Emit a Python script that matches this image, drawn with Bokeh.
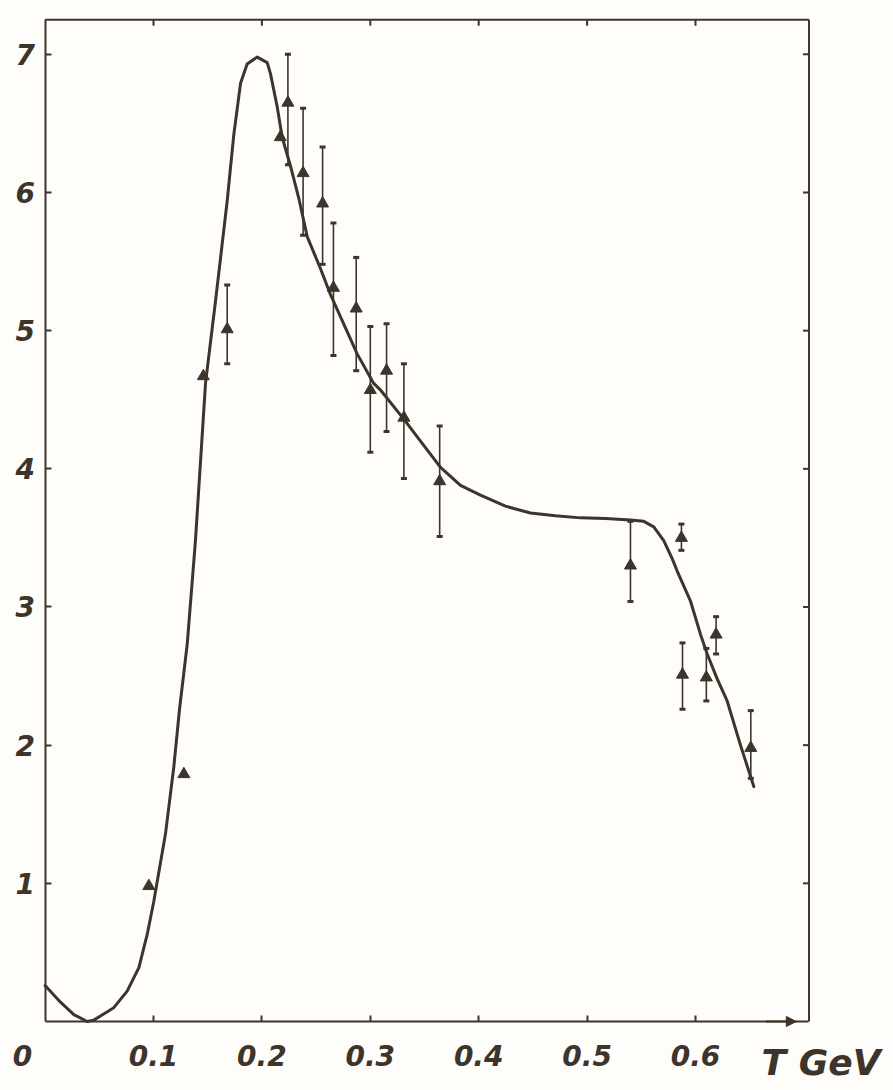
import math
from bokeh.plotting import figure
from bokeh.models import FixedTicker, Label, Arrow, NormalHead, Range1d
from bokeh.embed import file_html
from bokeh.resources import INLINE

# ---- data ----
x_ticks = [0.1, 0.2, 0.3, 0.4, 0.5, 0.6]
x_tick_labels = ["0.1", "0.2", "0.3", "0.4", "0.5", "0.6"]
y_ticks = [1, 2, 3, 4, 5, 6, 7]
y_tick_labels = ["1", "2", "3", "4", "5", "6", "7"]
origin_label = "0"
x_title = "T GeV"

curve_x = [0.000, 0.0142, 0.0265, 0.0388, 0.0449, 0.0634, 0.0757, 0.0865, 0.0942, 0.1003,
           0.1111, 0.1187, 0.1240, 0.1311, 0.1387, 0.1480, 0.1573, 0.1680, 0.1741, 0.1803,
           0.1864, 0.1957, 0.2049, 0.2079, 0.2141, 0.2187, 0.2264, 0.2340, 0.2418, 0.2540,
           0.2633, 0.2880, 0.3030, 0.3094, 0.3309, 0.3463, 0.3648, 0.3832, 0.4016, 0.4247,
           0.4478, 0.4708, 0.4939, 0.5170, 0.5400, 0.5523, 0.5615, 0.5707, 0.5785, 0.5831,
           0.5955, 0.6047, 0.6108, 0.6200, 0.6292, 0.6415, 0.6538]
curve_y = [0.26, 0.14, 0.05, 0.00, 0.01, 0.10, 0.22, 0.39, 0.63, 0.87,
           1.36, 1.84, 2.26, 2.73, 3.48, 4.62, 5.22, 5.94, 6.42, 6.79,
           6.93, 6.98, 6.94, 6.86, 6.62, 6.40, 6.19, 5.96, 5.68, 5.45,
           5.26, 4.83, 4.62, 4.57, 4.36, 4.20, 4.01, 3.88, 3.81, 3.73,
           3.68, 3.66, 3.645, 3.64, 3.63, 3.62, 3.58, 3.48, 3.35, 3.26,
           3.04, 2.80, 2.66, 2.48, 2.32, 2.00, 1.70]

point_x = [0.0957, 0.128, 0.146, 0.168, 0.217, 0.224, 0.238, 0.256, 0.266, 0.287,
           0.300, 0.315, 0.331, 0.364, 0.540, 0.587, 0.588, 0.610, 0.619, 0.651]
point_y = [0.98, 1.79, 4.67, 5.01, 6.40, 6.65, 6.14, 5.92, 5.31, 5.16,
           4.57, 4.71, 4.37, 3.91, 3.30, 3.50, 2.51, 2.49, 2.80, 1.98]

bar_x = [0.168, 0.224, 0.238, 0.256, 0.266, 0.287, 0.300, 0.315, 0.331, 0.364,
         0.540, 0.587, 0.588, 0.610, 0.619, 0.651]
bar_lo = [4.76, 6.20, 5.69, 5.48, 4.82, 4.71, 4.12, 4.27, 3.93, 3.51,
          3.04, 3.41, 2.26, 2.32, 2.66, 1.76]
bar_hi = [5.33, 7.00, 6.61, 6.33, 5.78, 5.53, 5.03, 5.05, 4.76, 4.31,
          3.62, 3.60, 2.74, 2.70, 2.93, 2.25]

# axis box limits (data units)
X_MAX = 0.7047
Y_MAX = 7.25

INK = "#3d342b"
PAPER = "#fefdf9"
FONT = "DejaVu Sans"

W, H = 893, 1090
# frame covers the whole canvas; pixel mapping: x_px = 44.6 + 1084*x, y_px = 1021 - 138.17*y
x_range = Range1d(-44.6 / 1084, (W - 44.6) / 1084)
y_range = Range1d(-(H - 1021) / 138.17, 1021 / 138.17)

p = figure(width=W, height=H, output_backend="svg", toolbar_location=None,
           x_range=x_range, y_range=y_range, min_border=0)
p.background_fill_color = PAPER
p.border_fill_color = PAPER
p.outline_line_color = None
p.grid.visible = False

def style_axis(ax):
    ax.axis_line_color = INK
    ax.axis_line_width = 2
    ax.major_tick_line_color = INK
    ax.major_tick_line_width = 2
    ax.major_tick_in = 6
    ax.major_tick_out = 0
    ax.minor_tick_line_color = None
    ax.major_label_text_color = INK
    ax.major_label_text_font = FONT
    ax.major_label_text_font_style = "bold italic"
    ax.major_label_text_font_size = "28px"

xb = p.xaxis[0]
xb.fixed_location = 0
xb.bounds = (0, X_MAX)
xb.ticker = FixedTicker(ticks=x_ticks)
xb.major_label_overrides = {t: l for t, l in zip(x_ticks, x_tick_labels)}
style_axis(xb)
xb.major_label_standoff = 23

yl = p.yaxis[0]
yl.fixed_location = 0
yl.bounds = (0, Y_MAX)
yl.ticker = FixedTicker(ticks=y_ticks)
yl.major_label_overrides = {t: l for t, l in zip(y_ticks, y_tick_labels)}
style_axis(yl)
yl.major_label_standoff = 10

# top and right sides of the box with inward ticks
p.segment(x0=[0], y0=[Y_MAX], x1=[X_MAX], y1=[Y_MAX], line_color=INK, line_width=2)
p.segment(x0=[X_MAX], y0=[0], x1=[X_MAX], y1=[Y_MAX], line_color=INK, line_width=2)
p.ray(x=x_ticks, y=[Y_MAX] * len(x_ticks), length=6, length_units="screen",
      angle=-math.pi / 2, line_color=INK, line_width=2)
p.ray(x=[X_MAX] * len(y_ticks), y=y_ticks, length=6, length_units="screen",
      angle=math.pi, line_color=INK, line_width=2)

# fitted curve
p.line(curve_x, curve_y, line_color=INK, line_width=3, line_join="round", line_cap="round")

# error bars
p.segment(x0=bar_x, y0=bar_lo, x1=bar_x, y1=bar_hi, line_color=INK, line_width=1.6)
p.scatter(bar_x, bar_lo, marker="dash", size=6, line_color=INK, line_width=3)
p.scatter(bar_x, bar_hi, marker="dash", size=6, line_color=INK, line_width=3)

# data points
p.scatter(point_x, point_y, marker="triangle", size=12, fill_color=INK, line_color=INK)

# origin label and axis title
p.add_layout(Label(x=-0.0208, y=-0.246, text=origin_label, text_font=FONT,
                   text_font_style="bold italic", text_font_size="28px", text_color=INK,
                   text_align="center", text_baseline="middle"))
p.add_layout(Label(x=0.661, y=-0.297, text=x_title, text_font=FONT,
                   text_font_style="bold italic", text_font_size="36px", text_color=INK,
                   text_align="left", text_baseline="middle"))

# arrow on the T axis
p.add_layout(Arrow(x_start=0.665, y_start=0, x_end=0.693, y_end=0, line_color=INK, line_width=2,
                   end=NormalHead(size=10, fill_color=INK, line_color=INK)))

open("out.html", "w").write(file_html(p, INLINE))
